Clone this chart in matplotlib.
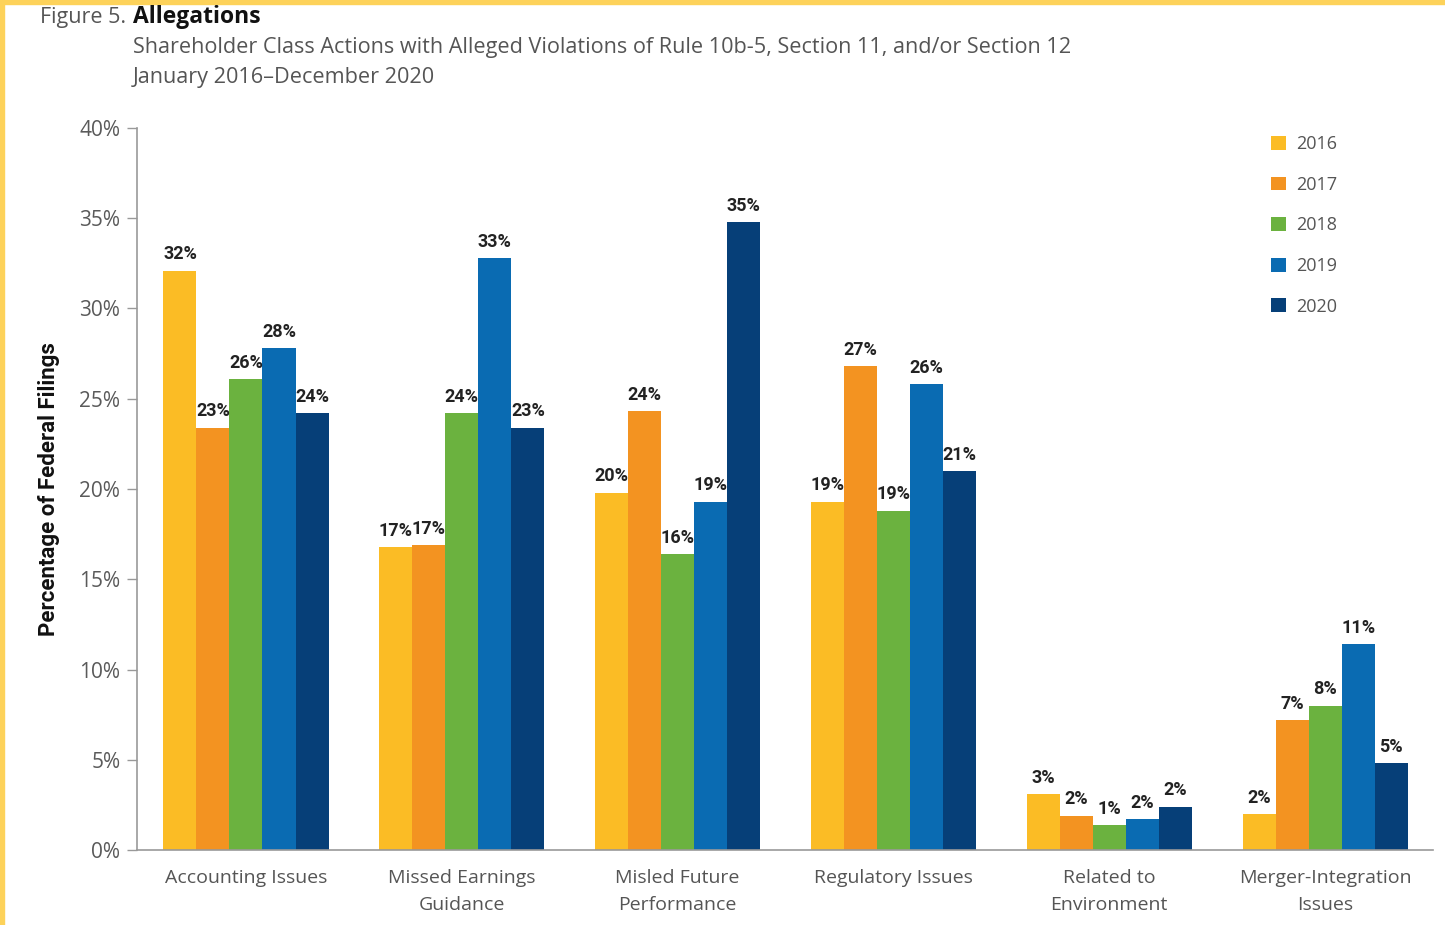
import matplotlib
matplotlib.use("Agg")
import matplotlib.pyplot as plt
import numpy as np
from matplotlib.patches import Rectangle

categories = ["Accounting Issues", "Missed Earnings\nGuidance", "Misled Future\nPerformance",
              "Regulatory Issues", "Related to\nEnvironment", "Merger-Integration\nIssues"]
years = ["2016", "2017", "2018", "2019", "2020"]

v2016 = [32.1, 16.8, 19.8, 19.3, 3.1, 2.0]
v2017 = [23.4, 16.9, 24.3, 26.8, 1.9, 7.2]
v2018 = [26.1, 24.2, 16.4, 18.8, 1.4, 8.0]
v2019 = [27.8, 32.8, 19.3, 25.8, 1.7, 11.4]
v2020 = [24.2, 23.4, 34.8, 21.0, 2.4, 4.8]
series = [v2016, v2017, v2018, v2019, v2020]

colors = ["#FBBC25", "#F39321", "#6BB23F", "#0A6BB2", "#063F78"]
yticks = [0, 5, 10, 15, 20, 25, 30, 35, 40]

W, H = 1445, 925
fig = plt.figure(figsize=(W / 100, H / 100), dpi=100)
fig.patch.set_facecolor("white")

# thin yellow frame along the top and left edges
fig.add_artist(Rectangle((0, 1 - 4 / H), 1, 4 / H, transform=fig.transFigure,
                         color="#FDD25A", zorder=0))
fig.add_artist(Rectangle((0, 0), 4 / W, 1, transform=fig.transFigure,
                         color="#FDD25A", zorder=0))

ax = fig.add_axes([137 / W, 75 / H, 1296 / W, 722 / H])

x = np.arange(len(categories))
bw = 0.153
label_font = dict(family="Roboto", fontweight="bold", fontsize=13, color="#222222")
for i, (vals, c, yr) in enumerate(zip(series, colors, years)):
    pos = x + (i - 2) * bw
    ax.bar(pos, vals, width=bw, color=c, label=yr, zorder=2)
    for px, v in zip(pos, vals):
        ax.text(px, v + 0.4, f"{v:.0f}%", ha="center", va="bottom", **label_font)

ax.set_xlim(-0.505, 5.5)
ax.set_ylim(0, 40)
ax.set_yticks(yticks)
ax.set_yticklabels([f"{t}%" for t in yticks], family="Open Sans", fontsize=15, color="#5a5a5a")
ax.set_xticks(x)
ax.set_xticklabels(categories, family="Open Sans", fontsize=14, color="#555555",
                   linespacing=1.6)
ax.tick_params(axis="x", length=0, pad=14)
ax.tick_params(axis="y", length=7, width=1, color="#999999", pad=5, direction="out")

for s in ["top", "right"]:
    ax.spines[s].set_visible(False)
ax.spines["left"].set_color("#999999")
ax.spines["bottom"].set_color("#999999")
ax.spines["left"].set_linewidth(1.2)
ax.spines["bottom"].set_linewidth(1.2)

ax.set_ylabel("Percentage of Federal Filings", family="Roboto",
              fontweight="bold", fontsize=16, color="#111111", labelpad=14)

leg = ax.legend(loc="upper left", bbox_to_anchor=(1118 / 1296, 1.0 + 9 / 722), frameon=False,
                prop={"family": "Open Sans", "size": 13}, handlelength=0.8, handleheight=0.8,
                labelspacing=1.25, handletextpad=0.6)
for t in leg.get_texts():
    t.set_color("#555555")

fig.text(40 / W, 1 - 17 / H, "Figure 5.", family="Open Sans", fontsize=15.5, color="#555555",
         va="center", ha="left")
fig.text(133 / W, 1 - 17 / H, "Allegations", family="Open Sans", fontsize=16.5, color="#111111",
         fontweight="bold", va="center", ha="left")
fig.text(133 / W, 1 - 47 / H,
         "Shareholder Class Actions with Alleged Violations of Rule 10b-5, Section 11, and/or Section 12",
         family="Open Sans", fontsize=15.6, color="#555555", va="center", ha="left")
fig.text(133 / W, 1 - 77 / H, "January 2016\u2013December 2020", family="Open Sans",
         fontsize=15.6, color="#555555", va="center", ha="left")

fig.savefig("out.png", dpi=100)
